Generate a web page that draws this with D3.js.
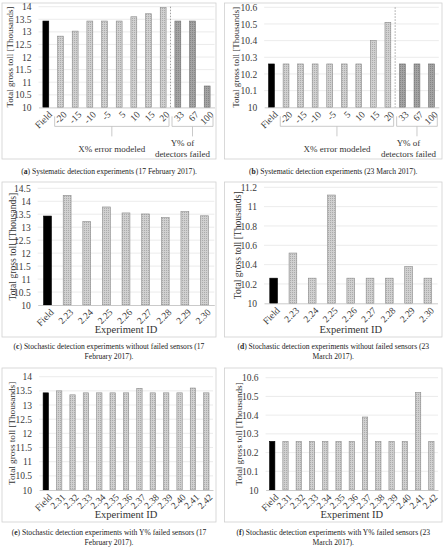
<!DOCTYPE html>
<html>
<head>
<meta charset="utf-8">
<script src="https://cdn.jsdelivr.net/npm/d3@7"></script>
<style>
  html, body { margin: 0; padding: 0; background: #fff; }
  svg { display: block; }
</style>
</head>
<body>
<div id="chart"></div>
<script>
// systematic experiments (a, b)
const sysCategories = ['Field', '-20', '-15', '-10', '-5', '5', '10', '15', '20', '33', '67', '100'];
const sysKinds = ['field', 'x', 'x', 'x', 'x', 'x', 'x', 'x', 'x', 'y', 'y', 'y'];
const feb17Systematic = [13.43, 12.83, 13.03, 13.43, 13.43, 13.43, 13.6, 13.72, 13.97, 13.43, 13.43, 10.85];
const mar23Systematic = [10.26, 10.26, 10.26, 10.26, 10.26, 10.26, 10.26, 10.40, 10.51, 10.26, 10.26, 10.26];

// stochastic experiments without failed sensors (c, d)
const noFailCategories = ['Field', '2.23', '2.24', '2.25', '2.26', '2.27', '2.28', '2.29', '2.30'];
const feb17NoFail = [13.43, 14.23, 13.22, 13.78, 13.55, 13.51, 13.37, 13.6, 13.44];
const mar23NoFail = [10.26, 10.52, 10.26, 11.12, 10.26, 10.26, 10.26, 10.38, 10.26];

// stochastic experiments with failed sensors (e, f)
const failCategories = ['Field', '2.31', '2.32', '2.33', '2.34', '2.35', '2.36', '2.37', '2.38', '2.39', '2.40', '2.41', '2.42'];
const feb17Fail = [13.43, 13.5, 13.36, 13.43, 13.43, 13.43, 13.43, 13.59, 13.43, 13.43, 13.43, 13.6, 13.43];
const mar23Fail = [10.26, 10.26, 10.26, 10.26, 10.26, 10.26, 10.26, 10.39, 10.26, 10.26, 10.26, 10.52, 10.26];

// y tick labels
const ticksFeb = ['10', '10.5', '11', '11.5', '12', '12.5', '13', '13.5', '14'];
const ticksFebC = ['10', '10.5', '11', '11.5', '12', '12.5', '13', '13.5', '14', '14.5'];
const ticksMar = ['10', '10.1', '10.2', '10.3', '10.4', '10.5', '10.6'];
const ticksMarD = ['10', '10.2', '10.4', '10.6', '10.8', '11', '11.2'];

const yTitle = 'Total gross toll [Thousands]';
const serif = '"Liberation Serif", "DejaVu Serif", serif';

const svg = d3.select('#chart')
  .append('svg')
  .attr('width', 445)
  .attr('height', 550)
  .attr('font-family', serif);

const defs = svg.append('defs');

// 细点纹理
function dotPattern(id, bg, dot) {
  const p = defs.append('pattern')
    .attr('id', id)
    .attr('patternUnits', 'userSpaceOnUse')
    .attr('width', 2)
    .attr('height', 2);
  p.append('rect').attr('width', 2).attr('height', 2).attr('fill', bg);
  p.append('rect').attr('width', 1).attr('height', 1).attr('fill', dot);
}
dotPattern('hatchX', '#d0d0d0', '#ababab');
dotPattern('hatchY', '#a3a3a3', '#868686');

const fills = { field: '#000', x: 'url(#hatchX)', y: 'url(#hatchY)' };
const strokes = { field: '#000', x: '#8a8a8a', y: '#6e6e6e' };

const panels = [
  {
    frame: [2, 3, 216, 159], plot: [38.5, 6.7, 214.5, 107.4], yTitleX: 10, yTitleSize: 9,
    cats: sysCategories, kinds: sysKinds, values: feb17Systematic, ticks: ticksFeb,
    systematic: true, caption: ['a', ' Systematic detection experiments (17 February 2017).'], captionY: 173.5,
  },
  {
    frame: [224.5, 3, 442, 159], plot: [264.2, 7.3, 438.8, 107.3], yTitleX: 235.5, yTitleSize: 9,
    cats: sysCategories, kinds: sysKinds, values: mar23Systematic, ticks: ticksMar,
    systematic: true, caption: ['b', ' Systematic detection experiments (23 March 2017).'], captionY: 173.5,
  },
  {
    frame: [2, 182, 216, 337], plot: [37.7, 188.3, 214.3, 305], yTitleX: 12, yTitleSize: 9.6,
    cats: noFailCategories, values: feb17NoFail, ticks: ticksFebC,
    caption: ['c', ' Stochastic detection experiments without failed sensors (17', 'February 2017).'], captionY: 349,
  },
  {
    frame: [224.5, 182, 442, 337], plot: [264, 187.3, 437.5, 303.3], yTitleX: 237, yTitleSize: 9.6,
    cats: noFailCategories, values: mar23NoFail, ticks: ticksMarD,
    caption: ['d', ' Stochastic detection experiments without failed sensors (23', 'March 2017).'], captionY: 349,
  },
  {
    frame: [2, 368, 216, 522], plot: [39.1, 376.7, 213, 490], yTitleX: 12, yTitleSize: 9.2,
    cats: failCategories, values: feb17Fail, ticks: ticksFeb,
    caption: ['e', ' Stochastic detection experiments with Y% failed sensors (17', 'February 2017).'], captionY: 535,
  },
  {
    frame: [224.5, 368, 442, 522], plot: [265.6, 377.7, 438, 490], yTitleX: 238.5, yTitleSize: 9.2,
    cats: failCategories, values: mar23Fail, ticks: ticksMar,
    caption: ['f', ' Stochastic detection experiments with Y% failed sensors (23', 'March 2017).'], captionY: 535,
  },
];

panels.forEach(drawPanel);

function drawPanel(p) {
  const [fx0, fy0, fx1, fy1] = p.frame;
  const [px0, py0, px1, py1] = p.plot;
  const g = svg.append('g');

  // 外框
  g.append('rect')
    .attr('x', fx0).attr('y', fy0)
    .attr('width', fx1 - fx0).attr('height', fy1 - fy0)
    .attr('fill', 'none').attr('stroke', '#d0d0d0').attr('stroke-width', 0.8);

  const tickVals = p.ticks.map(Number);
  const y = d3.scaleLinear()
    .domain([tickVals[0], tickVals[tickVals.length - 1]])
    .range([py1, py0]);
  const x = d3.scaleBand()
    .domain(p.cats)
    .range([px0, px1])
    .paddingInner(0.6)
    .paddingOuter(0.3);

  // 网格线
  g.append('g')
    .selectAll('line')
    .data(tickVals.slice(1))
    .join('line')
    .attr('x1', px0).attr('x2', px1)
    .attr('y1', d => y(d)).attr('y2', d => y(d))
    .attr('stroke', '#e3e3e3').attr('stroke-width', 0.7);

  // y 轴刻度
  const yAxis = g.append('g')
    .attr('transform', `translate(${px0},0)`)
    .call(d3.axisLeft(y).tickValues(tickVals).tickFormat((d, i) => p.ticks[i]).tickSize(0).tickPadding(7));
  yAxis.attr('font-family', serif);
  yAxis.select('.domain').remove();
  yAxis.selectAll('text')
    .attr('font-size', 9.5)
    .attr('fill', '#3a3a3a');

  // 柱子
  g.append('g')
    .selectAll('rect')
    .data(p.values)
    .join('rect')
    .attr('x', (d, i) => x(p.cats[i]))
    .attr('y', d => y(d))
    .attr('width', x.bandwidth())
    .attr('height', d => y(tickVals[0]) - y(d))
    .attr('fill', (d, i) => fills[p.kinds ? p.kinds[i] : (i === 0 ? 'field' : 'x')])
    .attr('stroke', (d, i) => strokes[p.kinds ? p.kinds[i] : (i === 0 ? 'field' : 'x')])
    .attr('stroke-width', 0.6);

  // x 轴
  const xAxis = g.append('g')
    .attr('transform', `translate(0,${py1})`)
    .call(d3.axisBottom(x).tickSize(0).tickPadding(4));
  xAxis.attr('font-family', serif);
  xAxis.select('.domain').attr('stroke', '#bdbdbd').attr('stroke-width', 0.8);
  xAxis.selectAll('text')
    .attr('font-size', 9.5)
    .attr('fill', '#3a3a3a')
    .attr('text-anchor', 'end')
    .attr('dy', 0)
    .attr('transform', 'translate(4,5) rotate(-45)');

  // y 轴标题
  g.append('text')
    .attr('transform', `translate(${p.yTitleX},${(py0 + py1) / 2}) rotate(-90)`)
    .attr('text-anchor', 'middle')
    .attr('dominant-baseline', 'central')
    .attr('font-size', p.yTitleSize)
    .attr('fill', '#333')
    .text(yTitle);

  if (p.systematic) {
    drawBrackets(g, p, x, y, py1);
  } else {
    g.append('text')
      .attr('x', (px0 + px1) / 2)
      .attr('y', fy1 - 4)
      .attr('text-anchor', 'middle')
      .attr('font-size', 10.5)
      .attr('fill', '#333')
      .text('Experiment ID');
  }

  // 图注
  const cx = (fx0 + fx1) / 2;
  const cap = svg.append('text')
    .attr('x', cx)
    .attr('y', p.captionY)
    .attr('text-anchor', 'middle')
    .attr('font-size', 7.6)
    .attr('fill', '#222');
  cap.append('tspan').text('(');
  cap.append('tspan').attr('font-weight', 'bold').text(p.caption[0]);
  cap.append('tspan').text(')' + p.caption[1]);
  if (p.caption[2]) {
    svg.append('text')
      .attr('x', cx)
      .attr('y', p.captionY + 9.5)
      .attr('text-anchor', 'middle')
      .attr('font-size', 7.6)
      .attr('fill', '#222')
      .text(p.caption[2]);
  }
}

// X% / Y% 分组括号
function drawBrackets(g, p, x, y, base) {
  const step = x.step();
  const split = x('20') + x.bandwidth() / 2 + step / 2;
  const frameRight = p.frame[2];

  // 分隔虚线
  g.append('line')
    .attr('x1', split).attr('x2', split)
    .attr('y1', p.plot[1]).attr('y2', base)
    .attr('stroke', '#8a8a8a').attr('stroke-width', 0.8)
    .attr('stroke-dasharray', '1.5,1.5');

  const groups = [
    { from: '-20', to: '20', lines: ['X% error modeled'], textY: [152] },
    { from: '33', to: '100', lines: ['Y% of', 'detectors failed'], textY: [146, 156.5], textX: frameRight - 33.5 },
  ];
  const top = base + 9;
  const mid = base + 19;
  const tail = base + 29;

  groups.forEach(gr => {
    const x0 = x(gr.from) + x.bandwidth() / 2 - step / 2 + 1.5;
    const x1 = Math.min(x(gr.to) + x.bandwidth() / 2 + step / 2 - 1.5, frameRight - 1.5);
    const xm = (x0 + x1) / 2;
    g.append('path')
      .attr('d', `M${x0},${top}V${mid}H${x1}V${top}M${xm},${mid}V${tail}`)
      .attr('fill', 'none')
      .attr('stroke', '#bdbdbd')
      .attr('stroke-width', 0.8);
    gr.lines.forEach((t, i) => {
      g.append('text')
        .attr('x', gr.textX || xm)
        .attr('y', gr.textY[i])
        .attr('text-anchor', 'middle')
        .attr('font-size', 9)
        .attr('fill', '#333')
        .text(t);
    });
  });
}
</script>
</body>
</html>
